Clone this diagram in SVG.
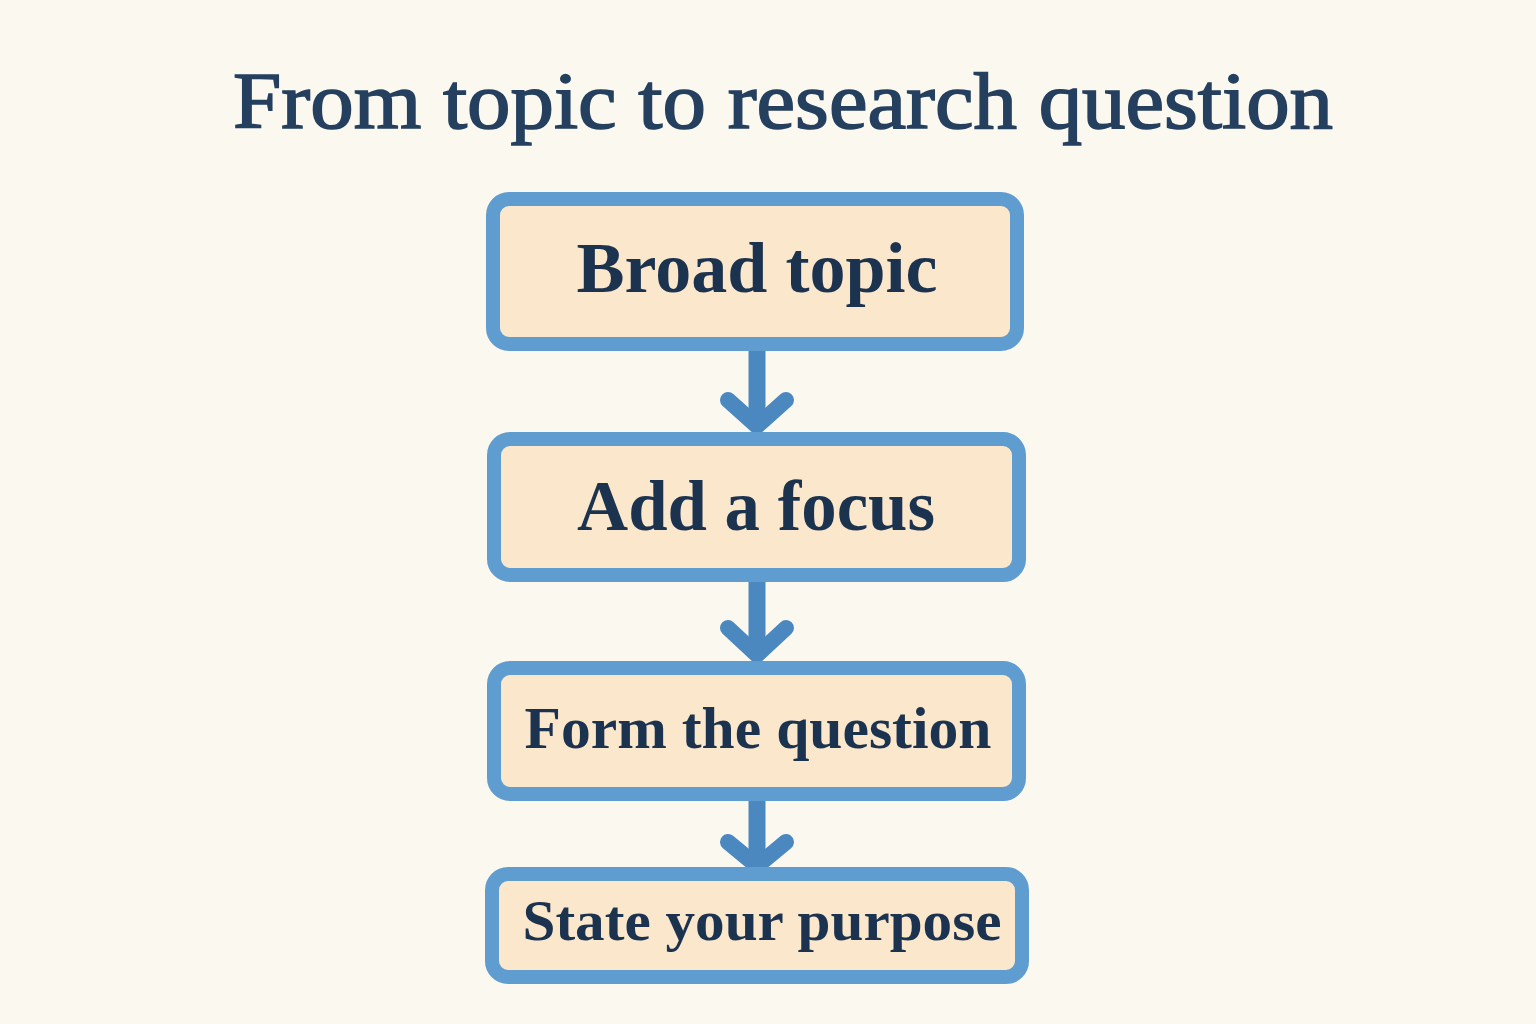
<svg xmlns="http://www.w3.org/2000/svg" width="1536" height="1024" viewBox="0 0 1536 1024">
<defs>
<style>
.box{fill:#fbe8cc;stroke:#5f9dd1;stroke-width:14}
.lbl{font-family:"Liberation Serif","DejaVu Serif",serif;font-weight:bold;fill:#1c3350;text-anchor:middle}
.title{font-family:"Liberation Serif","DejaVu Serif",serif;font-weight:normal;fill:#25405f;stroke:#25405f;stroke-width:1.6;text-anchor:middle}
.shaft{stroke:#4b88c0;stroke-width:17;fill:none}
.head{stroke:#4b88c0;stroke-width:16;fill:none;stroke-linecap:round;stroke-linejoin:round}
</style>
</defs>
<rect width="1536" height="1024" fill="#fbf8ef"/>
<text class="title" x="783" y="128" font-size="80" textLength="1100" lengthAdjust="spacingAndGlyphs">From topic to research question</text>
<g id="connectors">
<line class="shaft" x1="757" y1="350" x2="757" y2="420"/>
<polyline class="head" points="728,400 757,426 786,400"/>
<line class="shaft" x1="757" y1="581" x2="757" y2="650"/>
<polyline class="head" points="728,628 757,655 786,628"/>
<line class="shaft" x1="757" y1="800" x2="757" y2="862"/>
<polyline class="head" points="728,842 757,866 786,842"/>
</g>
<g id="n1">
<rect class="box" x="493" y="199" width="524" height="145" rx="16"/>
<text class="lbl" x="757" y="292" font-size="72" textLength="361" lengthAdjust="spacingAndGlyphs">Broad topic</text>
</g>
<g id="n2">
<rect class="box" x="494" y="439" width="525" height="136" rx="16"/>
<text class="lbl" x="756" y="530" font-size="72" textLength="358" lengthAdjust="spacingAndGlyphs">Add a focus</text>
</g>
<g id="n3">
<rect class="box" x="494" y="668" width="525" height="126" rx="16"/>
<text class="lbl" x="758" y="748" font-size="60" textLength="467" lengthAdjust="spacingAndGlyphs">Form the question</text>
</g>
<g id="n4">
<rect class="box" x="492" y="874" width="530" height="103" rx="16"/>
<text class="lbl" x="762" y="940" font-size="58" textLength="479" lengthAdjust="spacingAndGlyphs">State your purpose</text>
</g>
</svg>
